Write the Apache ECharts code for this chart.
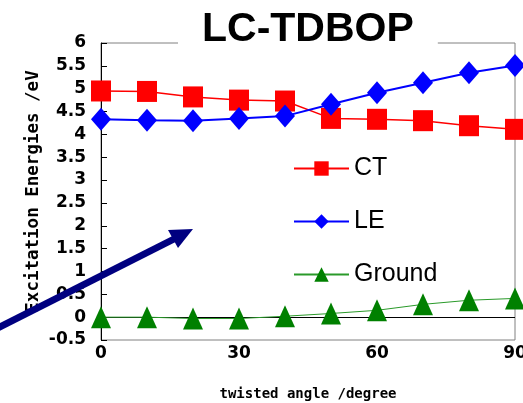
<!DOCTYPE html>
<html>
<head>
<meta charset="utf-8">
<script src="https://cdn.jsdelivr.net/npm/echarts@6/dist/echarts.min.js"></script>
<style>html,body{margin:0;padding:0;background:#fff;}#c{width:523px;height:403px;}</style>
</head>
<body>
<div id="c"></div>
<script>
const angles = [0, 10, 20, 30, 40, 50, 60, 70, 80, 90];
const ctValues = [4.95, 4.94, 4.82, 4.75, 4.73, 4.35, 4.33, 4.30, 4.19, 4.11];
const leValues = [4.33, 4.31, 4.30, 4.35, 4.40, 4.66, 4.91, 5.13, 5.35, 5.51];
const groundValues = [0, 0, -0.03, -0.03, 0.02, 0.08, 0.15, 0.28, 0.37, 0.41];
const xTicks = [0, 30, 60, 90];
const seriesNames = ['CT', 'LE', 'Ground'];

const pairs = arr => angles.map((a, i) => [a, arr[i]]);

const chart = echarts.init(document.getElementById('c'), null, {renderer: 'canvas'});
const tickFont = {fontFamily: 'DejaVu Sans', fontWeight: 'bold', fontSize: 17, color: '#000'};

chart.setOption({
  animation: false,
  backgroundColor: '#fff',
  title: {
    text: 'LC-TDBOP',
    left: 178,
    top: 0,
    padding: [9, 24, 11, 24],
    backgroundColor: '#fff',
    textStyle: {fontFamily: 'Liberation Sans', fontWeight: 'bold', fontSize: 41, color: '#000'}
  },
  grid: {left: 101, top: 43, right: 8, bottom: 63, outerBoundsMode: 'none', containLabel: false, show: true, borderColor: '#808080', borderWidth: 1, backgroundColor: 'transparent'},
  legend: {
    orient: 'vertical',
    left: 288,
    top: 151,
    itemWidth: 55,
    itemHeight: 18,
    itemGap: 28,
    data: seriesNames,
    textStyle: {fontFamily: 'Liberation Sans', fontSize: 25, color: '#000'}
  },
  xAxis: {
    type: 'value',
    min: 0, max: 90, interval: 30,
    axisLine: {show: false},
    axisTick: {show: false},
    splitLine: {show: false},
    axisLabel: Object.assign({margin: 5, formatter: v => xTicks.includes(v) ? String(v) : ''}, tickFont),
    name: 'twisted angle /degree',
    nameLocation: 'middle',
    nameGap: 47,
    nameMoveOverlap: false,
    nameTextStyle: {fontFamily: 'DejaVu Sans Mono', fontWeight: 'bold', fontSize: 14, color: '#000'}
  },
  yAxis: {
    type: 'value',
    min: -0.5, max: 6, interval: 0.5,
    axisLine: {show: true, onZero: false, lineStyle: {color: '#000', width: 1}},
    axisTick: {show: true, inside: true, length: 6, lineStyle: {color: '#000'}},
    splitLine: {show: false},
    axisLabel: Object.assign({margin: 15}, tickFont),
    name: 'Excitation Energies /eV',
    nameLocation: 'middle',
    nameGap: 59,
    nameMoveOverlap: false,
    nameTextStyle: {fontFamily: 'DejaVu Sans Mono', fontWeight: 'bold', fontSize: 17.5, color: '#000'}
  },
  graphic: [
    {type: 'line', shape: {x1: -10, y1: 332, x2: 176, y2: 238}, style: {stroke: '#000080', lineWidth: 7}, z: 100},
    {type: 'polygon', shape: {points: [[193, 229], [168, 230], [178, 248]]}, style: {fill: '#000080'}, z: 100}
  ],
  series: [
    {
      name: 'CT', type: 'line', data: pairs(ctValues),
      symbol: 'rect', symbolSize: [20, 21],
      lineStyle: {color: '#ff0000', width: 1.5},
      itemStyle: {color: '#ff0000'},
      z: 3
    },
    {
      name: 'LE', type: 'line', data: pairs(leValues),
      symbol: 'diamond', symbolSize: [20, 23],
      lineStyle: {color: '#0000ff', width: 2},
      itemStyle: {color: '#0000ff'},
      z: 4
    },
    {
      name: 'Ground', type: 'line', data: pairs(groundValues),
      symbol: 'triangle', symbolSize: [20, 22],
      lineStyle: {color: '#2a9a2a', width: 1},
      itemStyle: {color: '#008000'},
      z: 5,
      markLine: {
        silent: true, symbol: 'none', label: {show: false},
        lineStyle: {color: '#000', width: 1, type: 'solid'},
        data: [{yAxis: 0}],
        z: 2
      }
    }
  ]
});
</script>
</body>
</html>
